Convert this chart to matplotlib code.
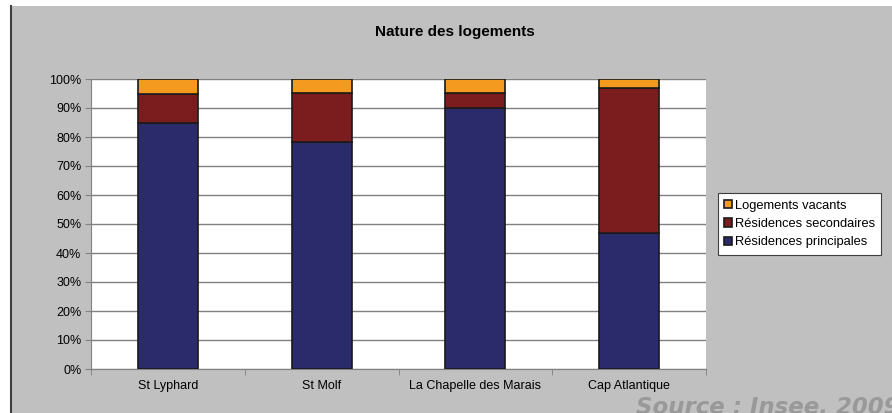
"""
Nature des logements - stacked 100% bars
"""

import numpy as np
import matplotlib.pyplot as plt
from matplotlib.patches import Rectangle
from matplotlib.ticker import PercentFormatter

plt.rcParams["font.family"] = ["Liberation Sans", "DejaVu Sans"]

communes = ["St Lyphard", "St Molf", "La Chapelle des Marais", "Cap Atlantique"]
principales = [84.8, 78.3, 90.0, 46.9]
secondaires = [10.1, 16.9, 5.2, 50.0]
vacants = [5.1, 4.8, 4.8, 3.1]

series = [
    ("Résidences principales", principales, "#2b2a6b"),
    ("Résidences secondaires", secondaires, "#7b1c1e"),
    ("Logements vacants", vacants, "#f39a1f"),
]

fig = plt.figure(figsize=(8.92, 4.13), dpi=100)
fig.patch.set_facecolor("white")
# grey chart area with dark left edge
fig.patches.append(Rectangle((11 / 892, 0), 1 - 11 / 892, 1 - 6 / 413,
                             transform=fig.transFigure, facecolor="#c0c0c0",
                             edgecolor="none", zorder=-2))
fig.lines.append(plt.Line2D([11 / 892, 11 / 892], [0, 1 - 6 / 413],
                            transform=fig.transFigure, color="#404040", lw=1.5))

ax = fig.add_axes([91 / 892, 1 - 369 / 413, 615 / 892, 290 / 413])
ax.set_facecolor("white")

x = np.arange(len(communes))
bottom = np.zeros(len(communes))
handles = []
for name, vals, color in series:
    b = ax.bar(x, vals, 0.39, bottom=bottom, color=color, edgecolor="#1a1a1a",
               linewidth=1.2, label=name, zorder=3)
    handles.append(b)
    bottom += np.array(vals)

ax.set_xlim(-0.5, len(communes) - 0.5)
ax.set_ylim(0, 100)
ax.set_yticks(np.arange(0, 101, 10))
ax.yaxis.set_major_formatter(PercentFormatter(decimals=0))
ax.grid(axis="y", color="#808080", linewidth=1.0, zorder=0)
ax.set_xticks(x)
ax.set_xticklabels(communes)
ax.set_xticks(np.arange(-0.5, len(communes), 1), minor=True)
ax.tick_params(axis="x", which="major", length=0, pad=8, labelsize=9)
ax.tick_params(axis="x", which="minor", length=4, color="#808080")
ax.tick_params(axis="y", length=4, color="#808080", labelsize=9, pad=3)
for side in ["top", "right"]:
    ax.spines[side].set_visible(False)
for side in ["left", "bottom"]:
    ax.spines[side].set_color("#808080")

fig.text(455 / 892, 1 - 32 / 413, "Nature des logements", ha="center",
         va="center", fontsize=11, fontweight="bold")

leg = fig.legend(handles[::-1], [s[0] for s in series][::-1],
                 loc="center left", bbox_to_anchor=(718 / 892, 1 - 224 / 413),
                 fontsize=9.3, frameon=True, fancybox=False, framealpha=1,
                 handlelength=0.6, handleheight=0.6, handletextpad=0.2,
                 borderpad=0.5, labelspacing=0.5, borderaxespad=0)
leg.get_frame().set_edgecolor("#404040")
leg.get_frame().set_linewidth(0.8)

fig.text(900 / 892, -6 / 413, "Source : Insee, 2009", ha="right", va="bottom",
         fontsize=16.5, fontweight="bold", style="italic", color="#999999",
         family="DejaVu Sans")

fig.savefig("out.png", dpi=100)
